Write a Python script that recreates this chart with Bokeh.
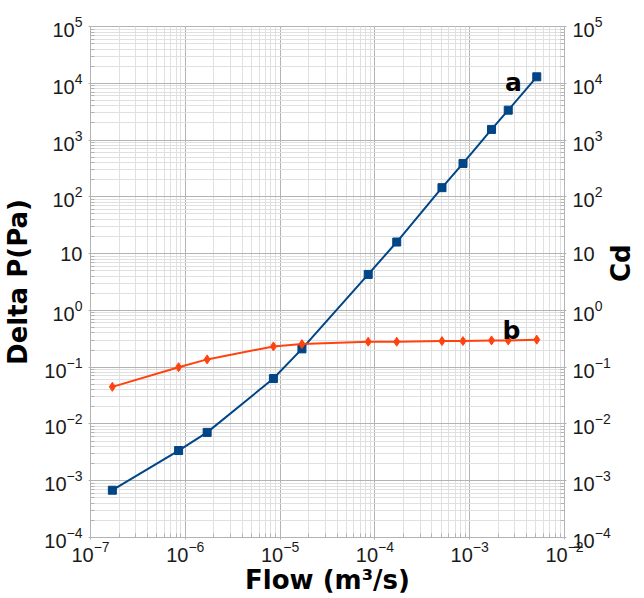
from math import pi
from bokeh.plotting import figure
from bokeh.models import Range1d, LogAxis, FixedTicker, LogTickFormatter
from bokeh.core.properties import value
from bokeh.embed import file_html
from bokeh.resources import INLINE

# ---- data ----
flow = [1.7e-7, 8.5e-7, 1.7e-6, 8.5e-6, 1.7e-5, 8.5e-5, 1.7e-4, 5.1e-4, 8.5e-4, 1.7e-3, 2.55e-3, 5.1e-3]
delta_p = [6.8e-4, 3.4e-3, 7.1e-3, 0.063, 0.21, 4.3, 16, 145, 387, 1540, 3360, 13000]
cd = [0.045, 0.10, 0.137, 0.232, 0.255, 0.281, 0.281, 0.288, 0.288, 0.296, 0.296, 0.305]

x_major = [1e-7, 1e-6, 1e-5, 1e-4, 1e-3, 1e-2]
y_major = [1e-4, 1e-3, 1e-2, 1e-1, 1e0, 1e1, 1e2, 1e3, 1e4, 1e5]

def minors(majors):
    out = []
    for m in majors[:-1]:
        for k in range(2, 10):
            out.append(m * k)
    return out

BLUE = "#004586"
RED = "#ff420e"
GRID = "#b3b3b3"
MINOR = "#e0e0e0"
TXT = "#1a1a1a"

p = figure(frame_width=474, frame_height=511,
           x_axis_type="log", y_axis_type="log",
           x_range=Range1d(1e-7, 1e-2), y_range=Range1d(1e-4, 1e5),
           output_backend="svg", toolbar_location=None,
           min_border_left=10, min_border_right=10, min_border_top=26, min_border_bottom=10,
           background_fill_color="white", border_fill_color="white")
p.outline_line_color = GRID

xt = FixedTicker(ticks=x_major, minor_ticks=minors(x_major))
yt = FixedTicker(ticks=y_major, minor_ticks=minors(y_major))

p.xaxis.ticker = xt
p.yaxis.ticker = yt

right = LogAxis(ticker=yt)
p.add_layout(right, "right")

for ax in [p.xaxis[0], p.yaxis[0], right]:
    ax.formatter = LogTickFormatter(min_exponent=0)
    ax.major_label_text_font = "Liberation Sans"
    ax.major_label_text_font_size = "20px"
    ax.major_label_text_color = TXT
    ax.axis_line_color = GRID
    ax.major_tick_line_color = GRID
    ax.major_tick_out = 2
    ax.major_tick_in = 0
    ax.minor_tick_line_color = GRID
    ax.minor_tick_in = 4
    ax.minor_tick_out = 0
    ax.axis_label_text_font = "DejaVu Sans"
    ax.axis_label_text_font_style = "bold"
    ax.axis_label_text_font_size = "26px"
    ax.axis_label_text_color = "black"

for ax in [p.yaxis[0], right]:
    ax.major_label_overrides = {10: "10"}

p.xaxis.axis_label = "Flow (m³/s)"
p.xaxis.major_label_standoff = 1
p.xaxis.axis_label_standoff = 0
p.yaxis[0].axis_label = "Delta P(Pa)"
p.yaxis[0].major_label_standoff = 6
p.yaxis[0].axis_label_standoff = 8
right.axis_label = "Cd"
right.major_label_standoff = 6
right.axis_label_standoff = 7
try:
    right.axis_label_orientation = pi / 2
except Exception:
    pass

p.grid.grid_line_color = GRID
p.grid.grid_line_width = 1
p.grid.minor_grid_line_color = MINOR
p.grid.minor_grid_line_width = 1

p.line(flow, delta_p, line_color=BLUE, line_width=2)
p.scatter(flow, delta_p, marker="square", size=8, fill_color=BLUE, line_color=BLUE)
p.line(flow, cd, line_color=RED, line_width=2)
p.scatter(flow, cd, marker="diamond", size=9, fill_color=RED, line_color=RED)

p.text(x=[2.9e-3], y=[1.03e4], text=["a"], text_font=value("DejaVu Sans"),
       text_font_style="bold", text_font_size="25px", text_align="center",
       text_baseline="alphabetic", text_color="black")
p.text(x=[2.75e-3], y=[0.445], text=["b"], text_font=value("DejaVu Sans"),
       text_font_style="bold", text_font_size="25px", text_align="center",
       text_baseline="alphabetic", text_color="black")

open("out.html", "w").write(file_html(p, INLINE))
